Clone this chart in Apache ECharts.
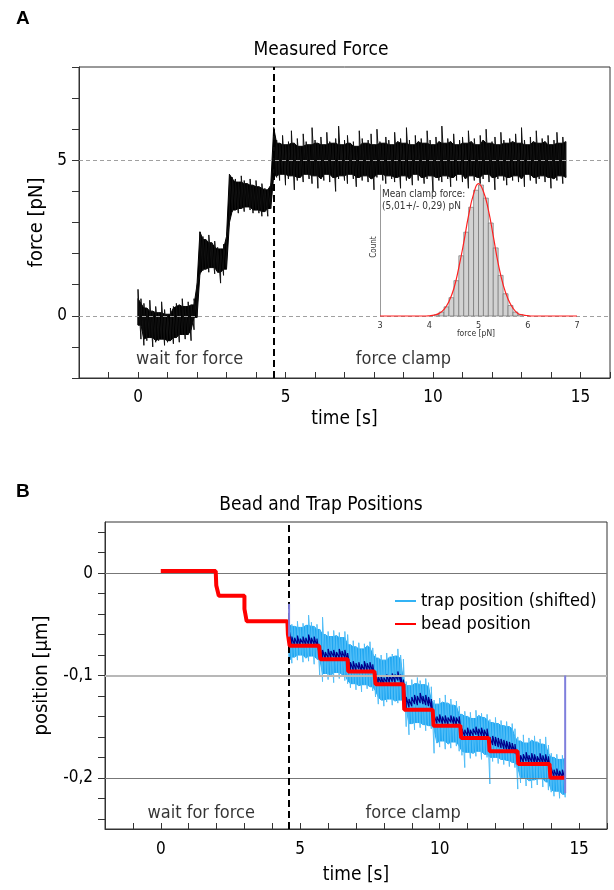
<!DOCTYPE html>
<html><head><meta charset="utf-8">
<script src="https://cdn.jsdelivr.net/npm/echarts@6/dist/echarts.min.js"></script>
<style>html,body{margin:0;padding:0;background:#fff;}#c{width:614px;height:890px;}</style>
</head><body><div id="c"></div>
<script>
const FONT = "'DejaVu Sans Condensed','DejaVu Sans',sans-serif";

// ---------- Panel A: measured force (envelope of the noisy trace, sampled every 0.1 s) ----------
const forceStart = 0.0, forceStep = 0.1;
const forceHigh = [
  0.85,0.55,0.40,0.25,0.50,0.15,0.30,0.10,0.45,0.20,
  0.05,0.25,0.30,0.40,0.35,0.55,0.30,0.45,0.35,0.55,
  1.00,2.70,2.55,2.45,2.60,2.35,2.40,2.20,2.15,2.30,
  2.55,4.55,4.45,4.40,4.30,4.50,4.35,4.25,4.40,4.20,
  4.35,4.15,4.25,4.10,4.05,4.20,6.05,
  5.65,5.55,5.80,5.50,5.60,5.95,5.55,5.70,5.45,5.85,
  5.60,5.50,6.05,5.65,5.55,5.75,5.50,5.90,5.60,5.55,
  5.70,6.10,5.50,5.65,5.80,5.55,5.60,5.45,5.95,5.70,
  5.55,5.65,5.85,5.50,6.00,5.60,5.55,5.75,5.65,5.50,
  5.90,5.60,5.70,5.55,6.05,5.65,5.50,5.80,5.60,5.70,
  5.55,5.95,5.65,5.50,5.75,5.60,6.10,5.55,5.70,5.60,
  5.85,5.50,5.65,5.75,5.55,5.95,5.60,5.70,5.50,5.80,
  5.65,6.00,5.55,5.60,5.75,5.50,5.90,5.65,5.55,5.70,
  5.60,5.85,5.55,6.05,5.65,5.50,5.75,5.60,5.95,5.55,
  5.70,5.60,5.80,5.50,5.65,5.90,5.55,5.75,5.60
];
const forceLow = [
  -0.30,-0.75,-0.95,-0.80,-0.70,-1.00,-0.85,-0.80,-0.75,-0.95,
  -0.85,-0.80,-0.90,-0.70,-0.85,-0.60,-0.75,-0.60,-0.80,-0.45,
  -0.05,1.35,1.45,1.50,1.40,1.55,1.35,1.40,1.05,1.30,
  1.50,3.00,3.35,3.40,3.30,3.45,3.35,3.50,3.40,3.30,
  3.40,3.30,3.20,3.35,3.20,3.45,4.50,
  4.45,4.35,4.55,4.20,4.40,4.50,4.05,4.35,4.45,4.30,
  4.55,4.40,4.25,4.50,4.10,4.40,4.35,4.55,4.30,4.45,
  4.00,4.40,4.50,4.35,4.25,4.55,4.40,4.15,4.45,4.35,
  4.50,4.30,4.40,4.05,4.45,4.55,4.35,4.25,4.50,4.40,
  4.30,4.45,4.10,4.50,4.35,4.40,4.20,4.55,4.35,4.45,
  4.25,4.40,4.50,4.00,4.45,4.35,4.30,4.50,4.40,4.15,
  4.45,4.35,4.55,4.30,4.40,4.10,4.50,4.35,4.45,4.25,
  4.40,4.55,4.30,4.45,4.05,4.40,4.50,4.35,4.20,4.45,
  4.35,4.50,4.30,4.40,4.15,4.55,4.35,4.45,4.25,4.40,
  4.50,4.30,4.45,4.10,4.40,4.35,4.50,4.25,4.45
];
const phaseSwitch = 4.6;
const forceRefLines = [0, 5];
const forceTickLabels = [0, 5];
const timeTickLabels = [0, 5, 10, 15];
const phaseLabels = ['wait for force', 'force clamp'];
const phaseLabelTimes = [1.75, 9.0];
const forceLabelLevel = -1.4;

// ---------- Inset: clamp force histogram ----------
const histBinLow = [4.1,4.2,4.3,4.4,4.5,4.6,4.7,4.8,4.9,5.0,5.1,5.2,5.3,5.4,5.5,5.6,5.7,5.8];
const histBinWidth = 0.1;
const histCounts = [0.01,0.03,0.07,0.14,0.27,0.46,0.64,0.83,0.96,1.00,0.90,0.71,0.52,0.31,0.17,0.08,0.03,0.01];
const fitStart = 3.0, fitStep = 0.1;
const fitValues = [
  0,0,0,0,0,0,0,0,0,0,
  0.002,0.007,0.02,0.05,0.11,0.21,0.37,0.56,0.77,0.93,
  1.01,0.95,0.81,0.61,0.40,0.24,0.13,0.06,0.02,0.009,
  0.003,0,0,0,0,0,0,0,0,0,0
];
const histTickLabels = [3, 4, 5, 6, 7];

// ---------- Panel B: bead and trap positions ----------
const beadStepStart = [0.00,1.99,2.08,3.00,3.08,4.56,4.62,5.72,6.72,7.70,8.73,9.78,10.77,11.79,12.82,13.97];
const beadStepEnd   = [1.97,2.04,3.00,3.05,4.54,4.60,5.68,6.70,7.66,8.70,9.75,10.74,11.76,12.79,13.94,14.51];
const beadLevel     = [0.002,-0.012,-0.022,-0.035,-0.047,-0.060,-0.071,-0.084,-0.096,-0.1085,-0.1335,-0.149,-0.161,-0.174,-0.1865,-0.200];

const trapStart = 4.6, trapStep = 0.1;
const trapHigh = [
  -0.045,-0.050,-0.052,-0.047,-0.053,-0.049,-0.051,-0.041,-0.048,-0.052,-0.050,
  -0.055,-0.043,-0.060,-0.057,-0.062,-0.056,-0.061,-0.058,-0.063,-0.057,-0.060,
  -0.070,-0.066,-0.072,-0.068,-0.074,-0.069,-0.071,-0.067,-0.073,
  -0.079,-0.083,-0.080,-0.085,-0.078,-0.082,-0.079,-0.081,-0.074,-0.080,-0.084,
  -0.106,-0.110,-0.104,-0.108,-0.102,-0.105,-0.109,-0.103,-0.107,-0.111,
  -0.124,-0.128,-0.122,-0.126,-0.119,-0.127,-0.123,-0.129,-0.125,-0.130,
  -0.138,-0.135,-0.140,-0.136,-0.142,-0.134,-0.139,-0.137,-0.141,-0.138,
  -0.143,-0.146,-0.141,-0.147,-0.144,-0.149,-0.145,-0.150,-0.147,-0.152,
  -0.160,-0.164,-0.158,-0.166,-0.161,-0.163,-0.159,-0.165,-0.162,-0.167,-0.160,-0.168,
  -0.176,-0.180,-0.177,-0.182,-0.178,-0.181
];
const trapLow = [
  -0.086,-0.088,-0.082,-0.085,-0.080,-0.087,-0.083,-0.086,-0.081,-0.089,-0.084,
  -0.101,-0.106,-0.098,-0.104,-0.100,-0.107,-0.097,-0.103,-0.099,-0.105,-0.108,
  -0.112,-0.108,-0.114,-0.110,-0.116,-0.109,-0.113,-0.111,-0.115,
  -0.121,-0.128,-0.124,-0.130,-0.126,-0.123,-0.129,-0.125,-0.127,-0.124,-0.132,
  -0.150,-0.158,-0.147,-0.153,-0.146,-0.151,-0.148,-0.154,-0.149,-0.152,
  -0.176,-0.166,-0.170,-0.164,-0.172,-0.167,-0.171,-0.165,-0.169,-0.174,
  -0.178,-0.190,-0.175,-0.181,-0.176,-0.179,-0.174,-0.182,-0.177,-0.180,
  -0.206,-0.184,-0.180,-0.186,-0.182,-0.187,-0.183,-0.189,-0.185,-0.190,
  -0.211,-0.205,-0.200,-0.208,-0.203,-0.210,-0.202,-0.207,-0.201,-0.209,-0.204,-0.212,
  -0.214,-0.218,-0.213,-0.220,-0.216,-0.219
];
const trapFiltHigh = [
  -0.055,-0.062,-0.063,-0.061,-0.064,-0.062,-0.063,-0.060,-0.063,-0.062,-0.064,
  -0.072,-0.075,-0.077,-0.074,-0.076,-0.075,-0.077,-0.074,-0.076,-0.075,-0.078,
  -0.087,-0.086,-0.088,-0.087,-0.089,-0.086,-0.088,-0.087,-0.089,
  -0.098,-0.101,-0.100,-0.102,-0.099,-0.100,-0.098,-0.099,-0.096,-0.099,-0.104,
  -0.121,-0.123,-0.121,-0.119,-0.120,-0.117,-0.120,-0.119,-0.121,-0.123,
  -0.139,-0.140,-0.138,-0.140,-0.139,-0.141,-0.139,-0.140,-0.141,-0.140,
  -0.152,-0.153,-0.151,-0.153,-0.152,-0.150,-0.152,-0.151,-0.153,-0.152,
  -0.160,-0.159,-0.160,-0.161,-0.162,-0.163,-0.164,-0.165,-0.166,-0.167,
  -0.176,-0.178,-0.177,-0.175,-0.178,-0.176,-0.177,-0.179,-0.176,-0.178,-0.177,-0.179,
  -0.190,-0.192,-0.191,-0.193,-0.192,-0.193
];
const trapFiltLow = [
  -0.068,-0.072,-0.071,-0.070,-0.072,-0.069,-0.071,-0.070,-0.071,-0.070,-0.072,
  -0.084,-0.083,-0.084,-0.083,-0.084,-0.082,-0.085,-0.083,-0.084,-0.083,-0.086,
  -0.096,-0.095,-0.096,-0.094,-0.097,-0.095,-0.096,-0.095,-0.097,
  -0.108,-0.109,-0.108,-0.110,-0.107,-0.108,-0.106,-0.107,-0.105,-0.107,-0.116,
  -0.132,-0.131,-0.130,-0.128,-0.129,-0.127,-0.128,-0.129,-0.130,-0.132,
  -0.148,-0.147,-0.146,-0.148,-0.147,-0.149,-0.146,-0.148,-0.149,-0.147,
  -0.161,-0.160,-0.159,-0.161,-0.159,-0.158,-0.160,-0.159,-0.161,-0.160,
  -0.170,-0.168,-0.169,-0.170,-0.171,-0.172,-0.173,-0.174,-0.175,-0.176,
  -0.186,-0.186,-0.185,-0.184,-0.186,-0.185,-0.186,-0.187,-0.185,-0.187,-0.186,-0.188,
  -0.199,-0.200,-0.199,-0.201,-0.200,-0.202
];
const trapJumpTime   = [4.6, 14.5];
const trapJumpTop    = [-0.030, -0.100];
const trapJumpBottom = [-0.062, -0.215];
const posRefLines = [0, -0.1, -0.2];
const posTickLabels = [0, -0.1, -0.2];
const posMinorTicks = [-0.24,-0.22,-0.2,-0.18,-0.16,-0.14,-0.12,-0.1,-0.08,-0.06,-0.04,-0.02,0,0.02,0.04];
const posLabelLevel = -0.235;
const phaseLabelTimesB = [1.45, 9.05];

// ---------- build ----------
// a noisy trace: solid core (local min/max of neighbouring envelope samples) + zigzag through every sample's low/high
function band(name, t0, dt, lo, hi, coreColor, needleColor, xi, yi, z, needleWidth) {
  const n = lo.length;
  const rows = lo.map((v, i) => [+(t0 + i * dt).toFixed(3), v, hi[i]]);
  const core = rows.map((r, i) => {
    const a = Math.max(0, i - 1), b = Math.min(n - 1, i + 1);
    let top = Infinity, bot = -Infinity;
    for (let k = a; k <= b; k++) { top = Math.min(top, rows[k][2]); bot = Math.max(bot, rows[k][1]); }
    if (bot > top) { bot = r[1]; top = r[2]; }
    return [r[0], bot, top];
  });
  return {
    name, type: 'custom', xAxisIndex: xi, yAxisIndex: yi, z, data: [[rows[0][0], rows[0][1]]],
    itemStyle: {color: coreColor},
    renderItem: (params, api) => {
      const pts = [];
      core.forEach(r => pts.push(api.coord([r[0], r[2]])));
      for (let i = n - 1; i >= 0; i--) pts.push(api.coord([core[i][0], core[i][1]]));
      const zz = [];
      rows.forEach(r => { zz.push(api.coord([r[0], r[1]])); zz.push(api.coord([r[0], r[2]])); });
      return {type: 'group', children: [
        {type: 'polygon', shape: {points: pts}, style: {fill: coreColor, stroke: coreColor, lineWidth: 1}},
        {type: 'polyline', shape: {points: zz}, style: {stroke: needleColor, lineWidth: needleWidth, fill: null}}
      ]};
    }
  };
}
const beadData = [];
beadLevel.forEach((lv, i) => { beadData.push([beadStepStart[i], lv], [beadStepEnd[i], lv]); });
const fitData = fitValues.map((v, i) => [+(fitStart + i * fitStep).toFixed(2), v]);
const histData = histBinLow.map((lo, i) => [lo, +(lo + histBinWidth).toFixed(2), histCounts[i]]);
const jumpData = trapJumpTime.map((t, i) => [t, trapJumpTop[i], trapJumpBottom[i]]);
const filtZig = [];
trapFiltLow.forEach((v, i) => { const t = +(trapStart + i * trapStep).toFixed(3); filtZig.push([t, v], [t, trapFiltHigh[i]]); });
const comma = v => String(+v.toFixed(3)).replace('.', ',');

const chart = echarts.init(document.getElementById('c'), null, {renderer: 'canvas'});
const axisCol = '#333';
const tickFont = 17;
const BLUE = '#1ea6f2';

chart.setOption({
  animation: false,
  textStyle: {fontFamily: FONT, color: '#000'},
  grid: [
    {left: 79, top: 67, width: 531, height: 311, show: true, borderColor: axisCol, borderWidth: 1},
    {left: 380, top: 185, width: 197, height: 131},
    {left: 105, top: 522, width: 502, height: 307, show: true, borderColor: axisCol, borderWidth: 1}
  ],
  xAxis: [
    {gridIndex: 0, type: 'value', min: -2, max: 16, interval: 1,
     axisLine: {onZero: false, lineStyle: {color: axisCol}}, axisTick: {inside: true, length: 6, lineStyle: {color: axisCol}},
     axisLabel: {fontSize: tickFont, margin: 11, color: '#000', formatter: v => timeTickLabels.includes(v) ? String(v) : ''},
     splitLine: {show: false},
     name: 'time [s]', nameLocation: 'middle', nameGap: 32, nameTextStyle: {fontSize: 19, color: '#000'}},
    {gridIndex: 1, type: 'value', min: 3, max: 7, interval: 1,
     axisLine: {show: false, onZero: false}, axisTick: {show: false}, splitLine: {show: false},
     axisLabel: {fontSize: 9, margin: 5, color: '#333', formatter: v => histTickLabels.includes(v) ? String(v) : ''}},
    {gridIndex: 2, type: 'value', min: -2, max: 16, interval: 1,
     axisLine: {onZero: false, lineStyle: {color: axisCol}}, axisTick: {inside: true, length: 6, lineStyle: {color: axisCol}},
     axisLabel: {fontSize: tickFont, margin: 12, color: '#000', formatter: v => timeTickLabels.includes(v) ? String(v) : ''},
     splitLine: {show: false},
     name: 'time [s]', nameLocation: 'middle', nameGap: 37, nameTextStyle: {fontSize: 19, color: '#000'}}
  ],
  yAxis: [
    {gridIndex: 0, type: 'value', min: -2, max: 8, interval: 1,
     axisLine: {show: true, onZero: false, lineStyle: {color: axisCol}}, axisTick: {show: true, length: 7, lineStyle: {color: axisCol}},
     axisLabel: {fontSize: tickFont, margin: 12, color: '#000', formatter: v => forceTickLabels.includes(v) ? String(v) : ''},
     splitLine: {show: false},
     name: 'force [pN]', nameLocation: 'middle', nameGap: 26, nameTextStyle: {fontSize: 20, color: '#000'}},
    {gridIndex: 1, type: 'value', min: 0, max: 1, interval: 0.5,
     axisLine: {show: true, onZero: false, lineStyle: {color: '#999', width: 1}}, axisTick: {show: false},
     axisLabel: {show: false}, splitLine: {show: false}},
    {gridIndex: 2, type: 'value', min: -0.25, max: 0.05,
     axisLine: {show: true, onZero: false, lineStyle: {color: axisCol}},
     axisTick: {show: true, length: 7, lineStyle: {color: axisCol}, customValues: posMinorTicks},
     axisLabel: {fontSize: tickFont, margin: 12, color: '#000', customValues: posTickLabels, formatter: v => comma(v)},
     splitLine: {show: false},
     name: 'position [µm]', nameLocation: 'middle', nameGap: 49, nameTextStyle: {fontSize: 20, color: '#000'}}
  ],
  legend: {
    data: [{name: 'trap position (shifted)', itemStyle: {color: '#33b3f5'}}, {name: 'bead position', itemStyle: {color: '#ff0000'}}],
    orient: 'vertical', left: 390, top: 587, itemGap: 5,
    icon: 'rect', itemWidth: 21, itemHeight: 2,
    textStyle: {fontSize: 18, color: '#000', fontFamily: FONT},
    selectedMode: false
  },
  series: [
    {type: 'line', xAxisIndex: 0, yAxisIndex: 0, data: [], z: 1, silent: true,
     markLine: {silent: true, symbol: 'none', label: {show: false},
       lineStyle: {color: '#a0a0a0', type: [4, 3], width: 1},
       data: forceRefLines.map(v => ({yAxis: v}))}},
    band('force', forceStart, forceStep, forceLow, forceHigh, '#000', '#111', 0, 0, 3, 1),
    {type: 'custom', xAxisIndex: 1, yAxisIndex: 1, z: 4, data: histData,
     renderItem: (params, api) => {
       const p0 = api.coord([api.value(0), 0]);
       const p1 = api.coord([api.value(1), api.value(2)]);
       return {type: 'rect', shape: {x: p0[0], y: p1[1], width: p1[0] - p0[0], height: p0[1] - p1[1]},
               style: {fill: '#d2d2d2', stroke: '#666', lineWidth: 0.6}};
     }},
    {type: 'line', xAxisIndex: 1, yAxisIndex: 1, z: 5, data: fitData, smooth: true, clip: false,
     showSymbol: false, symbol: 'none', lineStyle: {color: '#ff2020', width: 1.2}},
    {type: 'scatter', xAxisIndex: 0, yAxisIndex: 0, z: 6, symbolSize: 1, itemStyle: {color: 'rgba(0,0,0,0)'},
     data: phaseLabelTimes.map((t, i) => [t, forceLabelLevel, phaseLabels[i]]),
     label: {show: true, position: 'inside', formatter: p => p.data[2], fontSize: 18, color: '#000', fontFamily: FONT}},
    {type: 'line', xAxisIndex: 0, yAxisIndex: 0, data: [], z: 7,
     markLine: {silent: true, symbol: 'none', label: {show: false},
       lineStyle: {color: '#000', type: [7, 4], width: 2}, data: [{xAxis: phaseSwitch}]}},

    {type: 'line', xAxisIndex: 2, yAxisIndex: 2, data: [], z: 1,
     markLine: {silent: true, symbol: 'none', label: {show: false},
       data: posRefLines.map(v => ({yAxis: v, lineStyle: {color: v === -0.1 ? '#b8b8b8' : '#777', width: v === -0.1 ? 2 : 1, type: 'solid'}}))}},
    band('trap position (shifted)', trapStart, trapStep, trapLow, trapHigh, BLUE, '#52bef7', 2, 2, 3, 1),
    {name: 'trap filtered', type: 'line', xAxisIndex: 2, yAxisIndex: 2, z: 4,
     data: filtZig, showSymbol: false, symbol: 'none', lineStyle: {color: '#00008c', width: 1.2}},
    {name: 'bead position', type: 'line', xAxisIndex: 2, yAxisIndex: 2, z: 5,
     data: beadData, showSymbol: false, symbol: 'none',
     lineStyle: {color: '#ff0000', width: 4}, itemStyle: {color: '#ff0000'}},
    {type: 'custom', xAxisIndex: 2, yAxisIndex: 2, z: 6, data: jumpData,
     renderItem: (params, api) => {
       const a = api.coord([api.value(0), api.value(1)]);
       const b = api.coord([api.value(0), api.value(2)]);
       return {type: 'line', shape: {x1: a[0], y1: a[1], x2: b[0], y2: b[1]}, style: {stroke: '#7f7fdc', lineWidth: 2}};
     }},
    {type: 'scatter', xAxisIndex: 2, yAxisIndex: 2, z: 6, symbolSize: 1, itemStyle: {color: 'rgba(0,0,0,0)'},
     data: phaseLabelTimesB.map((t, i) => [t, posLabelLevel, phaseLabels[i]]),
     label: {show: true, position: 'inside', formatter: p => p.data[2], fontSize: 18, color: '#000', fontFamily: FONT}},
    {type: 'line', xAxisIndex: 2, yAxisIndex: 2, data: [], z: 7,
     markLine: {silent: true, symbol: 'none', label: {show: false},
       lineStyle: {color: '#000', type: [7, 4], width: 2}, data: [{xAxis: phaseSwitch}]}}
  ],
  graphic: [
    {type: 'text', x: 16, y: 19, style: {text: 'A', fontSize: 19, fontWeight: 'bold', fontFamily: 'Liberation Sans, Arial, sans-serif', fill: '#000', align: 'left', verticalAlign: 'middle'}},
    {type: 'text', x: 16, y: 492, style: {text: 'B', fontSize: 19, fontWeight: 'bold', fontFamily: 'Liberation Sans, Arial, sans-serif', fill: '#000', align: 'left', verticalAlign: 'middle'}},
    {type: 'text', x: 321, y: 50, style: {text: 'Measured Force', fontSize: 19, fontFamily: FONT, fill: '#000', align: 'center', verticalAlign: 'middle'}},
    {type: 'text', x: 321, y: 505, style: {text: 'Bead and Trap Positions', fontSize: 19, fontFamily: FONT, fill: '#000', align: 'center', verticalAlign: 'middle'}},
    {type: 'text', x: 382, y: 194, z: 10, style: {text: 'Mean clamp force:', fontSize: 10, fontFamily: FONT, fill: '#333', align: 'left', verticalAlign: 'middle'}},
    {type: 'text', x: 382, y: 206, z: 10, style: {text: '(5,01+/- 0,29) pN', fontSize: 10, fontFamily: FONT, fill: '#333', align: 'left', verticalAlign: 'middle'}},
    {type: 'text', x: 374, y: 247, rotation: Math.PI / 2, z: 10, style: {text: 'Count', fontSize: 8, fontFamily: FONT, fill: '#333', align: 'center', verticalAlign: 'middle'}},
    {type: 'text', x: 476, y: 334, z: 10, style: {text: 'force [pN]', fontSize: 8.5, fontFamily: FONT, fill: '#333', align: 'center', verticalAlign: 'middle'}}
  ]
});
</script></body></html>
